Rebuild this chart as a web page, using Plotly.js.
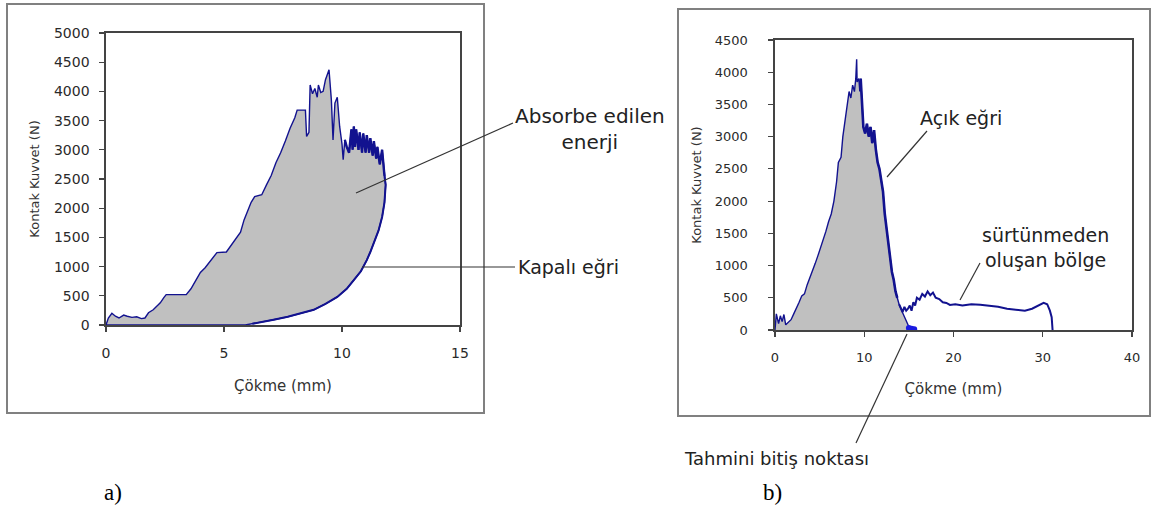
<!DOCTYPE html>
<html>
<head>
<meta charset="utf-8">
<script src="https://cdn.plot.ly/plotly-3.0.1.min.js"></script>
<style>html,body{margin:0;padding:0;background:#fff;}#chart{width:1157px;height:514px;}</style>
</head>
<body>
<div id="chart"></div>
<script>
// ---- Panel a) closed curve (loading + unloading) ----
const aLoadX = [0,0.1,0.25,0.4,0.55,0.75,0.9,1.1,1.3,1.5,1.65,1.8,2.0,2.15,2.3,2.45,2.55,3.4,3.6,3.8,4.0,4.2,4.45,4.7,5.1,5.3,5.5,5.7,5.85,6.0,6.15,6.3,6.6,6.8,7.0,7.2,7.4,7.6,7.8,8.0,8.1,8.45,8.5,8.6,8.65,8.75,8.85,8.95,9.0,9.1,9.2,9.3,9.45,9.55,9.62,9.7,9.8,9.9,10.0,10.05,10.12];
const aLoadY = [0,120,200,150,120,170,150,130,140,110,120,210,260,320,380,470,520,520,620,760,900,980,1120,1240,1250,1370,1480,1590,1800,1950,2100,2200,2230,2400,2560,2780,2950,3150,3370,3550,3680,3680,3230,3300,4110,3960,4050,3900,4110,3980,4000,4200,4370,3850,3170,3800,3900,3400,3100,2830,3170];
const aNoiseX = [10.12,10.2,10.3,10.4,10.45,10.5,10.55,10.6,10.7,10.75,10.85,10.9,11.0,11.05,11.15,11.2,11.3,11.35,11.45,11.5,11.6,11.7,11.8];
const aNoiseY = [3170,3050,2950,3350,3000,3400,3050,3350,3000,3300,2950,3280,2950,3250,2950,3200,2900,3150,2850,3050,2750,3000,2550];
const aUnloadX = [11.8,11.85,11.8,11.7,11.55,11.4,11.2,11.05,10.8,10.5,10.2,9.8,9.3,8.8,8.2,7.7,7.1,6.5,6.2,5.9,0];
const aUnloadY = [2550,2400,2100,1850,1620,1450,1250,1110,920,770,620,480,360,260,190,140,90,50,20,0,0];

// ---- Panel b) open curve ----
const bMainX = [0,0.15,0.4,0.6,0.8,1.0,1.2,1.5,1.8,2.1,2.4,2.7,3.0,3.3,3.6,3.9,4.2,4.5,4.8,5.1,5.4,5.7,6.0,6.3,6.6,6.9,7.1,7.4,7.6,7.9,8.1,8.3,8.5,8.7,8.9,9.05,9.15,9.2,9.4,9.5,9.6,9.75,9.9,10.1,10.3,10.5,10.7,10.9,11.1,11.3,11.5,11.7,11.9,12.1,12.3,12.5,12.7,12.9,13.1,13.3,13.5,13.7,13.9];
const bMainY = [0,250,100,220,130,240,80,120,160,250,330,430,530,560,700,800,900,1030,1150,1270,1380,1530,1680,1800,2000,2300,2600,2680,3000,3300,3500,3700,3600,3800,3700,3900,4200,3850,3900,3700,3900,3400,3150,3050,3200,3000,3150,2900,3100,2800,2600,2500,2300,2150,1800,1550,1300,1130,900,780,600,500,400];
const bEstX = [13.9,14.2,14.5,14.8,15.1,15.2];
const bEstY = [400,300,200,100,20,0];
const bEndX = [15.0,15.3,15.6];
const bEndY = [30,20,10];
const bFricX = [13.9,14.1,14.3,14.5,14.7,14.9,15.1,15.3,15.5,15.7,15.9,16.2,16.5,16.8,17.1,17.4,17.7,18.0,18.4,18.8,19.2,19.6,20.2,21,22,23,24,25,26,27,28,28.8,29.5,30.1,30.5,30.8,31.0,31.1];
const bFricY = [400,330,280,360,300,330,380,300,430,380,500,470,560,520,600,540,580,500,480,430,420,390,400,380,400,390,380,360,330,310,300,330,380,420,400,300,200,0];

// ---- texts ----
const yTitle = 'Kontak Kuvvet (N)';
const xTitle = 'Çökme (mm)';

const NAVY = '#12128f';
const GRAY = '#c0c0c0';

const aLoopX = aLoadX.concat(aNoiseX.slice(1), aUnloadX.slice(1));
const aLoopY = aLoadY.concat(aNoiseY.slice(1), aUnloadY.slice(1));
const bFillX = bMainX.concat(bEstX.slice(1));
const bFillY = bMainY.concat(bEstY.slice(1));

const traces = [
  {x: aLoopX, y: aLoopY, xaxis:'x', yaxis:'y', mode:'lines', fill:'toself', fillcolor:GRAY,
   line:{color:NAVY, width:1.4}, hoverinfo:'skip'},
  {x: aNoiseX, y: aNoiseY, xaxis:'x', yaxis:'y', mode:'lines', line:{color:NAVY, width:2.4}, hoverinfo:'skip'},
  {x: aUnloadX.slice(0, 19), y: aUnloadY.slice(0, 19), xaxis:'x', yaxis:'y', mode:'lines', line:{color:NAVY, width:2}, hoverinfo:'skip'},
  {x: bFillX, y: bFillY, xaxis:'x2', yaxis:'y2', mode:'lines', fill:'tozeroy', fillcolor:GRAY,
   line:{color:NAVY, width:1.4}, hoverinfo:'skip'},
  {x: bMainX.slice(40, 62), y: bMainY.slice(40, 62), xaxis:'x2', yaxis:'y2', mode:'lines', line:{color:NAVY, width:2.6}, hoverinfo:'skip'},
  {x: bFricX, y: bFricY, xaxis:'x2', yaxis:'y2', mode:'lines', line:{color:NAVY, width:2}, hoverinfo:'skip'},
  {x: bEndX, y: bEndY, xaxis:'x2', yaxis:'y2', mode:'markers', marker:{color:'#1a1ae0', size:6}, hoverinfo:'skip'}
];

const W = 1157, H = 514;
const px = v => v / W;
const py = v => 1 - v / H;

const tickFont = s => ({family:'DejaVu Sans, sans-serif', size:s, color:'#2a2a2a'});
const axisCommon = {
  showgrid:false, zeroline:false, showline:true, linecolor:'#444', linewidth:1.6, mirror:true,
  ticks:'outside', ticklen:5, tickcolor:'#444', tickwidth:1.2, fixedrange:true
};
const annFont = s => ({family:'DejaVu Sans, sans-serif', size:s, color:'#222'});

const layout = {
  width:W, height:H, autosize:false, showlegend:false,
  margin:{l:0, r:0, t:0, b:0}, paper_bgcolor:'#fff', plot_bgcolor:'#fff',
  xaxis: Object.assign({}, axisCommon, {domain:[px(106), px(460)], range:[0,15], dtick:5, anchor:'y',
    tickfont:tickFont(14), ticklabelstandoff:10,
    title:{text:xTitle, font:{family:'DejaVu Sans, sans-serif', size:15, color:'#333'}, standoff:20}}),
  yaxis: Object.assign({}, axisCommon, {domain:[py(325), py(33)], range:[0,5000], dtick:500, anchor:'x',
    tickfont:tickFont(14), ticklabelstandoff:7,
    title:{text:yTitle, font:{family:'DejaVu Sans, sans-serif', size:13, color:'#333'}, standoff:11}}),
  xaxis2: Object.assign({}, axisCommon, {domain:[px(775), px(1132)], range:[0,40], dtick:10, anchor:'y2',
    tickfont:tickFont(13), ticklabelstandoff:10,
    title:{text:xTitle, font:{family:'DejaVu Sans, sans-serif', size:15, color:'#333'}, standoff:19}}),
  yaxis2: Object.assign({}, axisCommon, {domain:[py(330), py(40)], range:[0,4500], dtick:500, anchor:'x2',
    tickfont:tickFont(13), ticklabelstandoff:18,
    title:{text:yTitle, font:{family:'DejaVu Sans, sans-serif', size:13, color:'#333'}, standoff:10}}),
  shapes: [
    {type:'rect', xref:'paper', yref:'paper', x0:px(7), x1:px(484), y0:py(413), y1:py(4), line:{color:'#808080', width:2}},
    {type:'rect', xref:'paper', yref:'paper', x0:px(678), x1:px(1150), y0:py(416), y1:py(9), line:{color:'#808080', width:2}},
    {type:'line', xref:'paper', yref:'paper', x0:px(513), y0:py(123), x1:px(356), y1:py(193), line:{color:'#333', width:1.2}},
    {type:'line', xref:'paper', yref:'paper', x0:px(362), y0:py(267), x1:px(515), y1:py(267), line:{color:'#333', width:1.2}},
    {type:'line', xref:'paper', yref:'paper', x0:px(927), y0:py(131), x1:px(887), y1:py(177), line:{color:'#333', width:1.2}},
    {type:'line', xref:'paper', yref:'paper', x0:px(980), y0:py(263), x1:px(960), y1:py(300), line:{color:'#333', width:1.2}},
    {type:'line', xref:'paper', yref:'paper', x0:px(907), y0:py(334), x1:px(856), y1:py(443), line:{color:'#333', width:1.2}}
  ],
  annotations: [
    {xref:'paper', yref:'paper', x:px(590), y:py(129), xanchor:'center', yanchor:'middle', text:'Absorbe edilen<br>enerji', showarrow:false, align:'center', font:annFont(20)},
    {xref:'paper', yref:'paper', x:px(516), y:py(267), xanchor:'left', yanchor:'middle', text:'Kapalı eğri', showarrow:false, font:annFont(19)},
    {xref:'paper', yref:'paper', x:px(961), y:py(118), xanchor:'center', yanchor:'middle', text:'Açık eğri', showarrow:false, font:annFont(19)},
    {xref:'paper', yref:'paper', x:px(1045), y:py(247), xanchor:'center', yanchor:'middle', text:'sürtünmeden<br>oluşan bölge', showarrow:false, align:'center', font:annFont(19)},
    {xref:'paper', yref:'paper', x:px(776), y:py(458), xanchor:'center', yanchor:'middle', text:'Tahmini bitiş noktası', showarrow:false, font:annFont(18)},
    {xref:'paper', yref:'paper', x:px(113), y:py(492), xanchor:'center', yanchor:'middle', text:'a)', showarrow:false,
     font:{family:'Liberation Serif, serif', size:23, color:'#000'}},
    {xref:'paper', yref:'paper', x:px(772), y:py(492), xanchor:'center', yanchor:'middle', text:'b)', showarrow:false,
     font:{family:'Liberation Serif, serif', size:23, color:'#000'}}
  ]
};

Plotly.newPlot('chart', traces, layout, {displayModeBar:false, staticPlot:true});
</script>
</body>
</html>
